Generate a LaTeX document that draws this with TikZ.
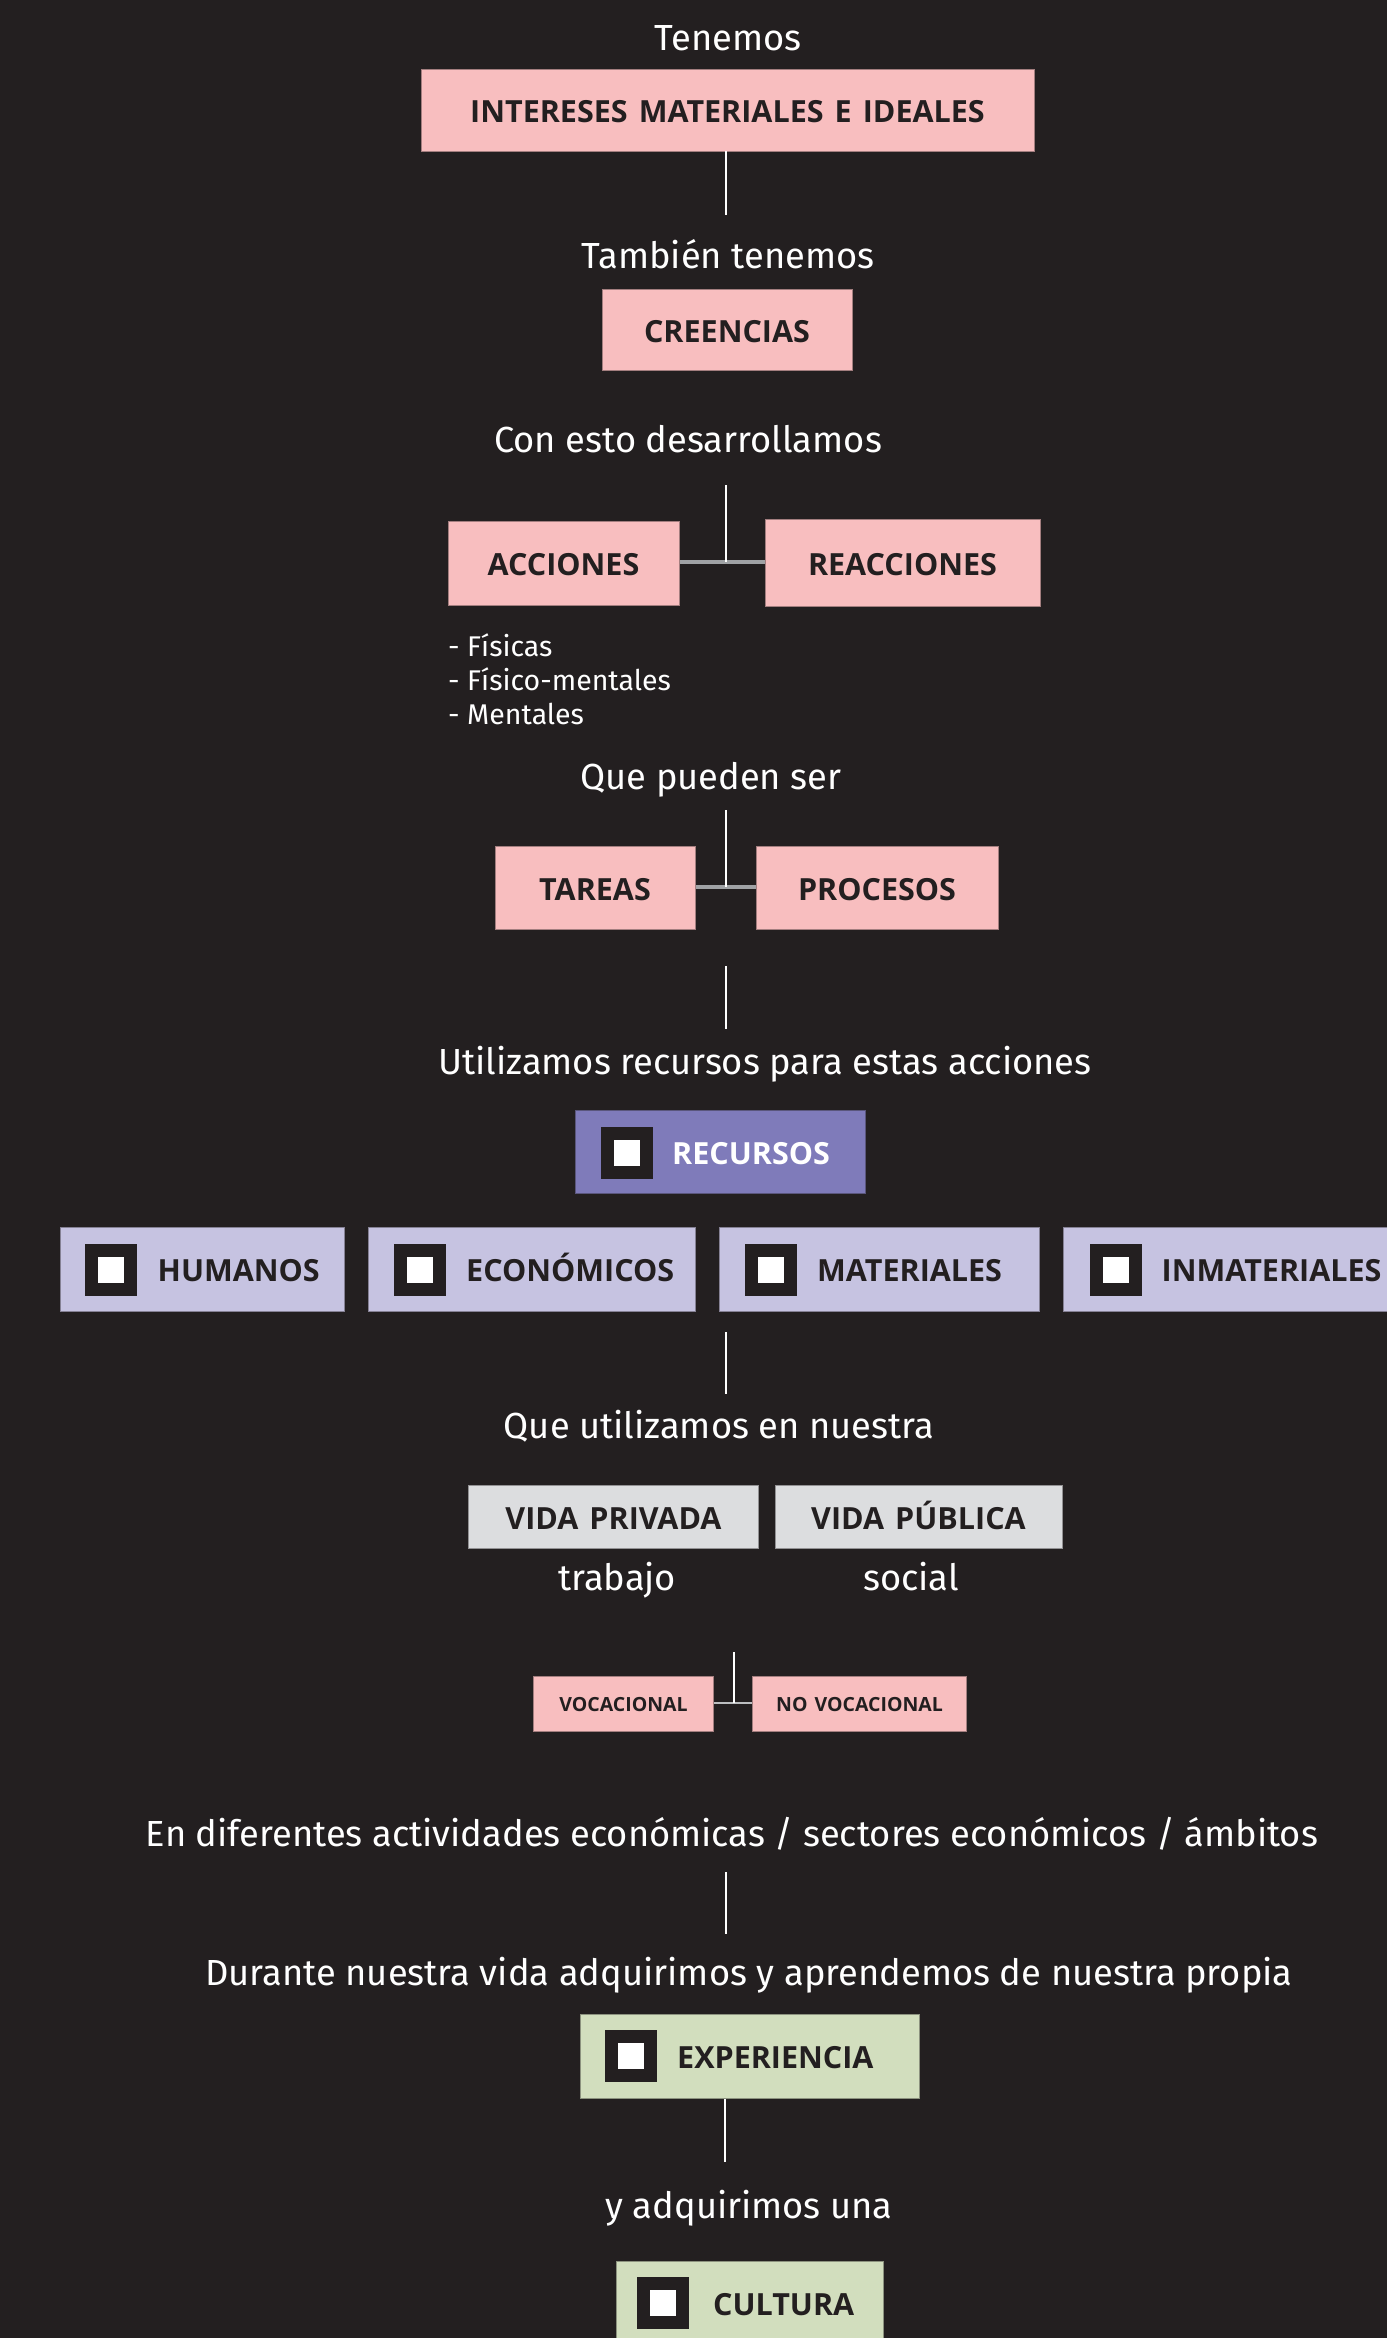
\documentclass[tikz,border=0pt]{standalone}
\usepackage{fontspec}
\setmainfont{Fira Sans}
\newfontfamily\boxfont{Open Sans}[WordSpace=1.4]
\definecolor{bgc}{HTML}{231F20}
\definecolor{darkc}{HTML}{231F20}
\definecolor{pinkc}{HTML}{F8BEBF}
\definecolor{purpc}{HTML}{7F7BBA}
\definecolor{lavc}{HTML}{C6C3E1}
\definecolor{grayc}{HTML}{DCDDDF}
\definecolor{greenc}{HTML}{D2DEBE}
\definecolor{linegray}{HTML}{A0A2A5}
\begin{document}
\begin{tikzpicture}[x=1pt,y=-1pt,
  lbl/.style={font=\fontsize{36.3}{40}\selectfont, text=white, inner sep=0pt},
  smalllbl/.style={font=\fontsize{28.5}{34}\selectfont, text=white, inner sep=0pt, align=left},
  box/.style={rectangle, inner sep=0pt, text=darkc, font=\boxfont\bfseries\fontsize{30.5}{31}\selectfont, text height=25pt, text depth=0pt},
  pinkbox/.style={box, fill=pinkc, draw=pinkc!60!bgc, line width=1pt},
  graybox/.style={box, fill=grayc, draw=grayc!60!bgc, line width=1pt},
  smallbox/.style={box, fill=pinkc, draw=pinkc!60!bgc, line width=1pt, font=\boxfont\bfseries\fontsize{19.5}{20}\selectfont, text height=15.5pt},
  lavbox/.style={rectangle, fill=lavc, draw=lavc!60!bgc, line width=1pt, inner sep=0pt, minimum height=84pt},
  purpbox/.style={rectangle, fill=purpc, draw=purpc!60!bgc, line width=1pt, inner sep=0pt},
  greenbox/.style={rectangle, fill=greenc, draw=greenc!60!bgc, line width=1pt, inner sep=0pt},
  iconsq/.style={rectangle, fill=white, draw=darkc, line width=13pt, minimum size=39pt, inner sep=0pt},
  boxtxt/.style={box, anchor=west},
  vline/.style={white, line width=2.5pt},
  hline/.style={linegray, line width=3.5pt}
]
\fill[bgc] (0,0) rectangle (1387,2338);
\useasboundingbox (0,0) rectangle (1387,2338);

% top
\node[lbl, anchor=base] (t1) at (728,50) {Tenemos};
\node[pinkbox, minimum width=613pt, minimum height=82pt] (b1) at (727.5,110) {INTERESES MATERIALES E IDEALES};
\coordinate (c1a) at (726,151);
\coordinate (c1b) at (726,215);
\draw[vline] (c1a) -- (c1b);
\node[lbl, anchor=base] (t2) at (728,268) {También tenemos};
\node[pinkbox, minimum width=250pt, minimum height=81pt] (b2) at (727,329.5) {CREENCIAS};

\node[lbl, anchor=base] (t3) at (688,452) {Con esto desarrollamos};
\node[pinkbox, minimum width=231pt, minimum height=84pt] (acc) at (563.5,563) {ACCIONES};
\node[pinkbox, minimum width=275pt, minimum height=87pt] (reac) at (902.5,562.5) {REACCIONES};
\coordinate (c2a) at (726,485);
\coordinate (c2b) at (726,562);
\draw[hline] (acc.east |- c2b) -- (reac.west |- c2b);
\draw[vline] (c2a) -- (c2b);
\node[smalllbl, anchor=base west] (l1) at (448,656) {- Físicas};
\node[smalllbl, anchor=base west] (l2) at (448,690) {- Físico-mentales};
\node[smalllbl, anchor=base west] (l3) at (448,724) {- Mentales};

\node[lbl, anchor=base] (t4) at (711,789) {Que pueden ser};
\node[pinkbox, minimum width=200pt, minimum height=83pt] (tar) at (595,887.5) {TAREAS};
\node[pinkbox, minimum width=242pt, minimum height=83pt] (proc) at (877,887.5) {PROCESOS};
\coordinate (c3a) at (726,810);
\coordinate (c3b) at (726,887);
\draw[hline] (tar.east |- c3b) -- (proc.west |- c3b);
\draw[vline] (c3a) -- (c3b);
\coordinate (c4a) at (726,966);
\coordinate (c4b) at (726,1029);
\draw[vline] (c4a) -- (c4b);

\node[lbl, anchor=base] (t5) at (765,1074) {Utilizamos recursos para estas acciones};

% recursos
\node[purpbox, minimum width=290pt, minimum height=83pt] (rec) at (720,1152) {};
\node[iconsq] (reci) at (627,1152.5) {};
\node[boxtxt, text=white] (rect) at (672,1152) {RECURSOS};

\node[lavbox, minimum width=284pt] (hum) at (202,1269) {};
\node[iconsq] (humi) at (111,1269.5) {};
\node[boxtxt] (humt) at (157.5,1269) {HUMANOS};

\node[lavbox, minimum width=327pt] (eco) at (531.5,1269) {};
\node[iconsq] (ecoi) at (420,1269.5) {};
\node[boxtxt] (ecot) at (466,1269) {ECONÓMICOS};

\node[lavbox, minimum width=320pt] (mat) at (879,1269) {};
\node[iconsq] (mati) at (771,1269.5) {};
\node[boxtxt] (matt) at (817,1269) {MATERIALES};

\node[lavbox, minimum width=337pt] (inm) at (1231.5,1269) {};
\node[iconsq] (inmi) at (1116,1269.5) {};
\node[boxtxt] (inmt) at (1161.5,1269) {INMATERIALES};

\coordinate (c5a) at (726,1332);
\coordinate (c5b) at (726,1394);
\draw[vline] (c5a) -- (c5b);

\node[lbl, anchor=base] (t6) at (719,1438) {Que utilizamos en nuestra};
\node[graybox, minimum width=290pt, minimum height=63pt] (vpriv) at (613.5,1516.5) {VIDA PRIVADA};
\node[graybox, minimum width=287pt, minimum height=63pt] (vpub) at (918.5,1516.5) {VIDA PÚBLICA};
\node[lbl, anchor=base] (t7) at (617,1590) {trabajo};
\node[lbl, anchor=base] (t8) at (911,1590) {social};

\node[smallbox, minimum width=180pt, minimum height=55pt] (voc) at (623.5,1703.5) {VOCACIONAL};
\node[smallbox, minimum width=214pt, minimum height=55pt] (novoc) at (859.5,1703.5) {NO VOCACIONAL};
\coordinate (c6a) at (734,1652);
\coordinate (c6b) at (734,1703);
\draw[linegray!70!white, line width=2.5pt] (voc.east |- c6b) -- (novoc.west |- c6b);
\draw[white, line width=1.5pt] (c6a) -- (c6b);

\node[lbl, anchor=base] (t9) at (732,1846) {En diferentes actividades económicas / sectores económicos / ámbitos};
\coordinate (c7a) at (726,1872);
\coordinate (c7b) at (726,1934);
\draw[vline] (c7a) -- (c7b);
\node[lbl, anchor=base] (t10) at (749,1985) {Durante nuestra vida adquirimos y aprendemos de nuestra propia};

\node[greenbox, minimum width=339pt, minimum height=84pt] (exp) at (749.5,2056) {};
\node[iconsq] (expi) at (631,2056) {};
\node[boxtxt] (expt) at (677,2056) {EXPERIENCIA};
\coordinate (c8b) at (725,2162);
\draw[vline] (exp.south -| c8b) -- (c8b);

\node[lbl, anchor=base] (t11) at (749,2218) {y adquirimos una};
\node[greenbox, minimum width=267pt, minimum height=84pt] (cul) at (749.5,2303) {};
\node[iconsq] (culi) at (663,2302.5) {};
\node[boxtxt] (cult) at (713,2302.5) {CULTURA};
\end{tikzpicture}
\end{document}
